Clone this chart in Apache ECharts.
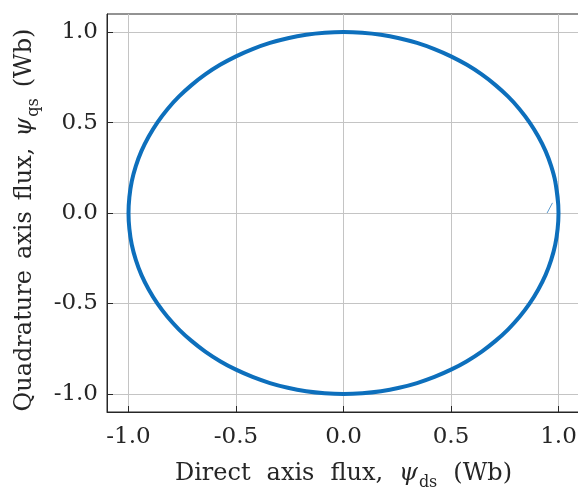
<!DOCTYPE html>
<html>
<head>
<meta charset="utf-8">
<script src="https://cdn.jsdelivr.net/npm/echarts@6/dist/echarts.min.js"></script>
<style>
  html, body { margin: 0; padding: 0; background: #ffffff; }
  #chart { width: 578px; height: 491px; }
</style>
</head>
<body>
<div id="chart"></div>
<script>
// Stator flux trajectory in the d-q plane (Wb)
// start-up segment before the flux settles onto the circle
const startD = [0.947, 0.972];
const startQ = [0.000, 0.056];

// steady-state trajectory, counter-clockwise from the d axis
const fluxD = [0.998,
  0.985, 0.966, 0.940, 0.906, 0.866, 0.819, 0.766, 0.707, 0.643, 0.574, 0.500, 0.423, 0.342, 0.259, 0.174, 0.087, 0.000,
  -0.087, -0.174, -0.259, -0.342, -0.423, -0.500, -0.574, -0.643, -0.707, -0.766, -0.819, -0.866, -0.906, -0.940, -0.966, -0.985, -0.996, -1.000,
  -0.996, -0.985, -0.966, -0.940, -0.906, -0.866, -0.819, -0.766, -0.707, -0.643, -0.574, -0.500, -0.423, -0.342, -0.259, -0.174, -0.087, 0.000,
  0.087, 0.174, 0.259, 0.342, 0.423, 0.500, 0.574, 0.643, 0.707, 0.766, 0.819, 0.866, 0.906, 0.940, 0.966, 0.985, 0.996, 1.000,
  0.996, 0.985];
const fluxQ = [0.056,
  0.174, 0.259, 0.342, 0.423, 0.500, 0.574, 0.643, 0.707, 0.766, 0.819, 0.866, 0.906, 0.940, 0.966, 0.985, 0.996, 1.000,
  0.996, 0.985, 0.966, 0.940, 0.906, 0.866, 0.819, 0.766, 0.707, 0.643, 0.574, 0.500, 0.423, 0.342, 0.259, 0.174, 0.087, 0.000,
  -0.087, -0.174, -0.259, -0.342, -0.423, -0.500, -0.574, -0.643, -0.707, -0.766, -0.819, -0.866, -0.906, -0.940, -0.966, -0.985, -0.996, -1.000,
  -0.996, -0.985, -0.966, -0.940, -0.906, -0.866, -0.819, -0.766, -0.707, -0.643, -0.574, -0.500, -0.423, -0.342, -0.259, -0.174, -0.087, 0.000,
  0.087, 0.174];

const tickValues = [-1.0, -0.5, 0.0, 0.5, 1.0];

const pairs = (xs, ys) => xs.map((x, i) => [x, ys[i]]);

const serif = 'DejaVu Serif';
const textColor = '#262626';
const axisColor = '#262626';
const lineBlue = '#0d6fbc';

// rich styles for an axis title; wordGap widens the inter-word spacing
function titleRich(wordGap) {
  return {
    w: { fontFamily: serif, fontSize: 24, color: textColor, lineHeight: 28, verticalAlign: 'top', padding: [0, wordGap, 0, 0] },
    a: { fontFamily: serif, fontSize: 24, color: textColor, lineHeight: 28, verticalAlign: 'top' },
    psi: { fontFamily: serif, fontSize: 24, fontStyle: 'italic', color: textColor, lineHeight: 28, verticalAlign: 'top', padding: [0, 1, 0, 0] },
    sub: { fontFamily: serif, fontSize: 16, color: textColor, lineHeight: 18, padding: [13, wordGap, 0, 0], verticalAlign: 'top' }
  };
}

// axis title: words become padded tokens, the flux symbol gets its subscript
function axisTitle(words, sub) {
  const head = words.map(t => '{w|' + t + '}').join('');
  return head + '{psi|ψ}{sub|' + sub + '}{a|(Wb)}';
}

function axisCommon(labelMargin) {
  return {
    type: 'value',
    min: -1.1,
    max: 1.1,
    axisLine: { show: true, onZero: false, lineStyle: { color: axisColor, width: 1 } },
    axisTick: { show: true, inside: true, length: 6, customValues: tickValues, lineStyle: { color: axisColor } },
    splitLine: { show: true, lineStyle: { color: '#c4c4c4', width: 1 } },
    axisLabel: {
      customValues: tickValues,
      fontFamily: serif,
      fontSize: 23,
      color: textColor,
      margin: labelMargin,
      formatter: v => v.toFixed(1)
    },
    nameLocation: 'middle'
  };
}

const chart = echarts.init(document.getElementById('chart'), null, { renderer: 'canvas' });

chart.setOption({
  animation: false,
  backgroundColor: '#ffffff',
  grid: {
    left: 107,
    top: 14,
    width: 473,
    height: 398,
    containLabel: false,
    outerBoundsMode: 'none',
    show: true,
    borderColor: axisColor,
    borderWidth: 1,
    backgroundColor: 'transparent'
  },
  xAxis: Object.assign(axisCommon(14), {
    name: axisTitle(['Direct', 'axis', 'flux,'], 'ds'),
    nameGap: 50,
    nameTextStyle: { rich: titleRich(16) }
  }),
  yAxis: Object.assign(axisCommon(9), {
    name: axisTitle(['Quadrature', 'axis', 'flux,'], 'qs'),
    nameGap: 66,
    nameRotate: 90,
    nameTextStyle: { rich: titleRich(11), padding: [0, 14, 0, 0] }
  }),
  series: [
    {
      type: 'line',
      data: pairs(startD, startQ),
      showSymbol: false,
      lineStyle: { color: '#5b9bd0', width: 1 },
      z: 3
    },
    {
      type: 'line',
      data: pairs(fluxD, fluxQ),
      showSymbol: false,
      smooth: 0.33,
      lineStyle: { color: lineBlue, width: 4 },
      z: 4
    }
  ]
});
</script>
</body>
</html>
